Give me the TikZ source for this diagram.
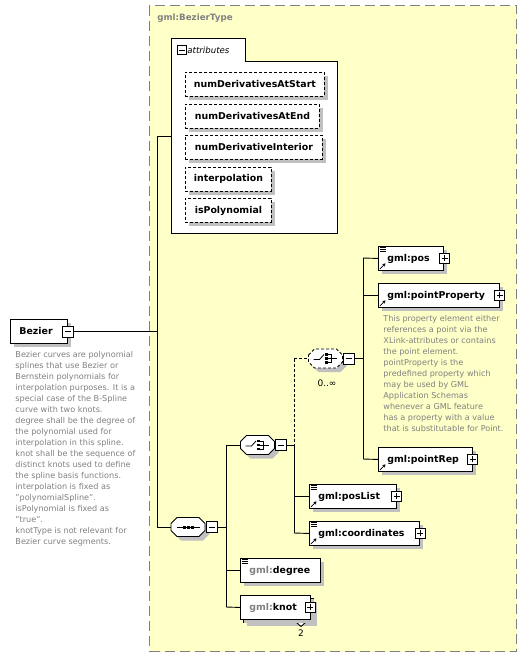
\documentclass[tikz,border=0pt]{standalone}
\usepackage{fontspec}
\setmainfont{DejaVu Sans}
\usetikzlibrary{shadows,arrows.meta}
\definecolor{bg}{RGB}{255,255,200}
\definecolor{shd}{RGB}{192,192,192}
\definecolor{desc}{RGB}{128,128,128}
\definecolor{outer}{RGB}{128,128,128}
\newcommand{\lblfont}{\fontsize{9.4}{11}\selectfont\bfseries}
\newcommand{\descfont}{\fontsize{8.1}{11}\selectfont}
\newcommand{\octshape}[3]{% #1 node, #2 style, #3 shift
  \draw[#2] ([shift={(-17+#3,-3.5+#3)}]#1.center) -- ([shift={(-11+#3,-9.5+#3)}]#1.center) -- ([shift={(11+#3,-9.5+#3)}]#1.center) -- ([shift={(17+#3,-3.5+#3)}]#1.center) -- ([shift={(17+#3,3.5+#3)}]#1.center) -- ([shift={(11+#3,9.5+#3)}]#1.center) -- ([shift={(-11+#3,9.5+#3)}]#1.center) -- ([shift={(-17+#3,3.5+#3)}]#1.center) -- cycle;}
\newcommand{\choiceicon}[1]{%
  \draw[icl] ([shift={(-12,1)}]#1.center) -- ([shift={(-6,1)}]#1.center) -- ([shift={(-1.5,-4)}]#1.center);
  \foreach \dy in {-4,0,4} \fill ([shift={(-0.5,\dy-1.3)}]#1.center) rectangle ++(2.6,2.6);
  \draw[icl] ([shift={(2.5,-4)}]#1.center) -- ([shift={(5.5,-4)}]#1.center) -- ([shift={(5.5,4)}]#1.center) -- ([shift={(2.5,4)}]#1.center);
  \draw[icl] ([shift={(2.5,0)}]#1.center) -- ([shift={(11,0)}]#1.center);}
\begin{document}
\begin{tikzpicture}[x=1pt,y=-1pt,line width=0.9pt,
  shdw/.style={drop shadow={shadow xshift=4pt,shadow yshift=-4pt,fill=shd,opacity=1}},
  elem/.style={draw,fill=white,anchor=north west,minimum height=24pt,inner xsep=9pt,inner ysep=0pt,align=left,font=\lblfont,shdw},
  attr/.style={draw,dash pattern=on 3pt off 2pt,fill=white,anchor=north west,minimum height=24pt,inner sep=0pt,font=\lblfont,shdw},
  pm/.style={draw,solid,fill=white,minimum size=10pt,inner sep=0pt},
  plusbox/.style={pm,path picture={\draw[line width=0.9pt] ([xshift=-3pt]path picture bounding box.center) -- ([xshift=3pt]path picture bounding box.center) ([yshift=-3pt]path picture bounding box.center) -- ([yshift=3pt]path picture bounding box.center);}},
  minusbox/.style={pm,path picture={\draw[line width=0.9pt] ([xshift=-3pt]path picture bounding box.center) -- ([xshift=3pt]path picture bounding box.center);}},
  octbox/.style={minimum width=34pt,minimum height=19pt,inner sep=0pt},
  dsc/.style={anchor=north west,align=left,inner sep=0pt,font=\descfont,text=desc},
  icl/.style={line width=0.8pt}
]
\useasboundingbox (0,0) rectangle (527,657);
% outer type box
\node[draw=outer,line width=1.2pt,dash pattern=on 10pt off 5pt,fill=bg,anchor=north west,minimum width=367pt,minimum height=646pt,inner sep=0pt] (type) at (149,5) {};
\node[anchor=west,inner sep=0pt,font=\fontsize{8.7}{10}\selectfont\bfseries,text=desc] (ttl) at (157,18) {gml:BezierType};

% attributes container
\draw[fill=white] (171,38) -- (245,38) -- (245,61) -- (337,61) -- (337,233) -- (171,233) -- cycle;
\node[minusbox,minimum size=9pt] (atM) at (182,50) {};
\node[anchor=west,inner sep=0pt,font=\fontsize{8.6}{10}\selectfont\itshape] (atL) at (187,50) {attributes};
\coordinate (attrIn) at (171,136);
\node[attr,minimum width=139pt] (a1) at (185,72) {numDerivativesAtStart};
\node[attr,minimum width=134pt] (a2) at (185,103.5) {numDerivativesAtEnd};
\node[attr,minimum width=137pt] (a3) at (185,135) {numDerivativeInterior};
\node[attr,minimum width=86pt] (a4) at (185,166.5) {interpolation};
\node[attr,minimum width=86pt] (a5) at (185,198) {isPolynomial};

% Bezier element
\node[elem,text width=39pt] (bz) at (10,319) {Bezier};
\node[minusbox,minimum size=11pt] (bzM) at (bz.east) {};
\node[dsc] (bzD) at (15,350.5) {Bezier curves are polynomial\\splines that use Bezier or\\Bernstein polynomials for\\interpolation purposes. It is a\\special case of the B-Spline\\curve with two knots.\\degree shall be the degree of\\the polynomial used for\\interpolation in this spline.\\knot shall be the sequence of\\distinct knots used to define\\the spline basis functions.\\interpolation is fixed as\\"polynomialSpline".\\isPolynomial is fixed as\\"true".\\knotType is not relevant for\\Bezier curve segments.};

% sequence
\node[octbox] (seq) at (188,527) {};
\octshape{seq}{fill=shd,draw=none}{4}
\octshape{seq}{draw,fill=white}{0}
\node[minusbox,minimum size=11pt] (seqM) at (211.5,527) {};
\draw[icl] ([xshift=-11pt]seq.center) -- ([xshift=12pt]seq.center);
\foreach \dx in {-5.5,-1.5,2.5} \fill ([shift={(\dx,-1.5)}]seq.center) rectangle ++(3,3);

% choice
\node[octbox] (ch) at (257.5,445) {};
\octshape{ch}{fill=shd,draw=none}{4}
\octshape{ch}{draw,fill=white}{0}
\node[minusbox,minimum size=11pt] (chM) at (280.5,445) {};
\choiceicon{ch}

% dashed choice
\node[octbox] (dch) at (325.5,358.5) {};
\octshape{dch}{fill=shd,draw=none}{4}
\octshape{dch}{draw,fill=white,dash pattern=on 3pt off 2pt}{0}
\node[minusbox,minimum size=11pt] (dchM) at (348.5,358.5) {};
\choiceicon{dch}
\node[inner sep=0pt,font=\fontsize{9}{10}\selectfont] (dchL) at (327,383) {0..∞};

% elements
\node[elem,text width=47pt] (pos) at (378,246) {gml:pos};
\node[plusbox] (posP) at ([xshift=1pt]pos.east) {};
\node[elem,text width=103pt] (pp) at (378,283) {gml:pointProperty};
\node[plusbox] (ppP) at (pp.east) {};
\node[dsc] (ppD) at (383,314.5) {This property element either\\references a point via the\\XLink-attributes or contains\\the point element.\\pointProperty is the\\predefined property which\\may be used by GML\\Application Schemas\\whenever a GML feature\\has a property with a value\\that is substitutable for Point.};
\node[elem,text width=76pt] (prep) at (378,447) {gml:pointRep};
\node[plusbox] (prepP) at (prep.east) {};
\node[elem,text width=69pt] (posl) at (309,484) {gml:posList};
\node[plusbox] (poslP) at (posl.east) {};
\node[elem,text width=92pt] (coord) at (309,521) {gml:coordinates};
\node[plusbox] (coordP) at ([xshift=0.5pt]coord.east) {};
\node[elem,text width=62pt] (deg) at (240,558) {{\color{desc}gml:}degree};
\node[elem,text width=52pt,minimum width=70pt] (knotB) at (243,598) {};
\draw[fill=white] (296,622) -- (301,626.5) -- (306,622);
\node[elem,text width=52pt,drop shadow={opacity=0}] (knot) at (240,595) {{\color{desc}gml:}knot};
\node[plusbox] (knotP) at ([xshift=-0.5pt]knot.east) {};
\node[inner sep=0pt,font=\fontsize{9}{10}\selectfont] (knotL) at (301,633) {2};

% icons
\foreach \n in {pos,posl,coord,deg} {
  \foreach \d in {1.8,3.8,5.8} \draw[line width=0.7pt] ([shift={(1.5,\d)}]\n.north west) -- ++(6,0);
}
\foreach \n in {pos,pp,prep,posl,coord} {
  \draw[line width=0.8pt,-{Stealth[length=3pt,width=3.5pt]}] ([shift={(2,-2)}]\n.south west) -- ++(5.5,-5.5);
}

% connectors
\coordinate (v1t) at (157,136);
\coordinate (v1b) at (157,527);
\draw (bzM.east) -- (bzM.east -| v1t);
\draw (v1t) -- (v1b);
\draw (v1t) -- (attrIn);
\draw (v1b) -- (seq.west);

\coordinate (v2t) at (226,445);
\coordinate (v2b) at (226,607);
\draw (seqM.east) -- (seqM.east -| v2t);
\draw (v2t) -- (v2b);
\draw (v2t) -- (ch.west);
\draw (v2b |- deg.west) -- (deg.west);
\draw (v2b) -- (knot.west);

\coordinate (v3t) at (294,358.5);
\coordinate (v3m) at (294,445);
\coordinate (v3b) at (294,533);
\draw (chM.east) -- (v3m);
\draw[dash pattern=on 3pt off 2pt] (v3t) -- (v3m);
\draw (v3m) -- (v3b);
\draw[dash pattern=on 3pt off 2pt] (v3t) -- (dch.west);
\draw (v3b |- posl.west) -- (posl.west);
\draw (v3b) -- (coord.west);

\coordinate (v4t) at (363,258);
\coordinate (v4b) at (363,459);
\draw (dchM.east) -- (dchM.east -| v4t);
\draw (v4t) -- (v4b);
\draw (v4t) -- (pos.west);
\draw (v4t |- pp.west) -- (pp.west);
\draw (v4b) -- (prep.west);
\end{tikzpicture}
\end{document}
